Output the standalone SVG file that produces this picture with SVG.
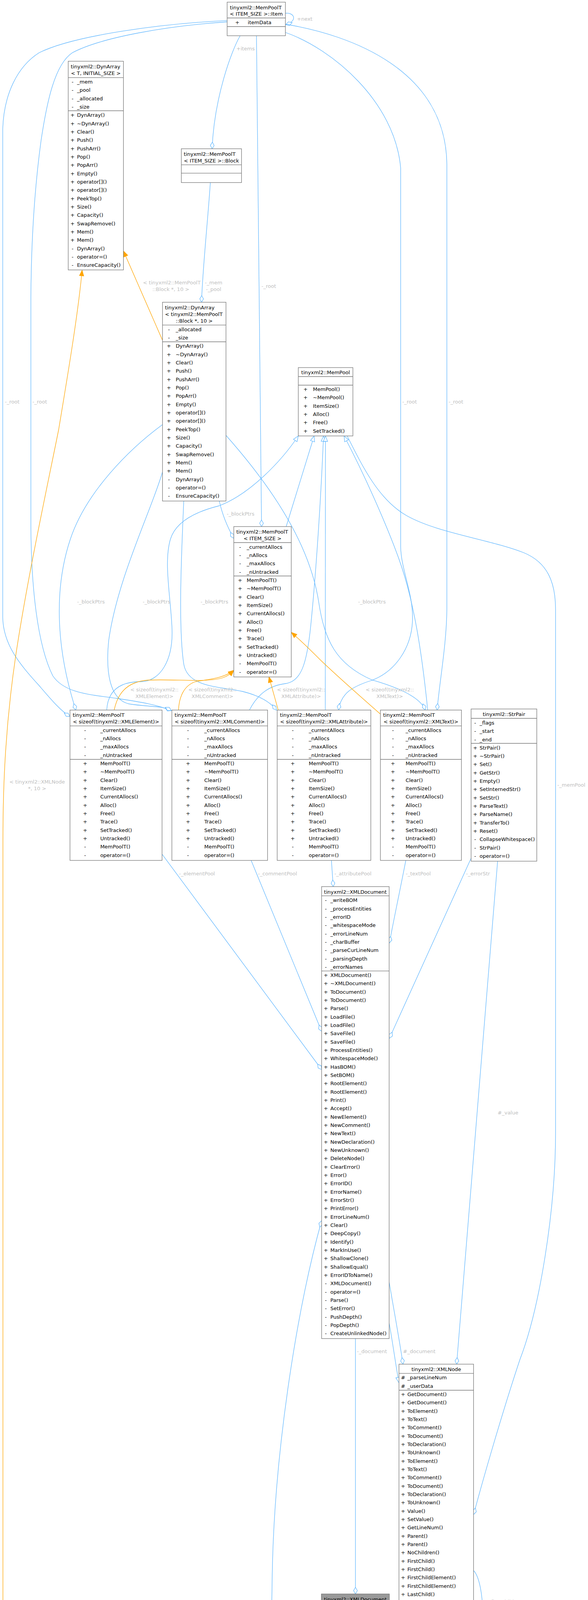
<svg xmlns="http://www.w3.org/2000/svg" width="1504" height="5374" viewBox="0 0 1504 5374">
<style>
text{font-family:"DejaVu Sans","Noto Sans",sans-serif;font-size:13px;fill:#000}
.c{text-anchor:middle}
.lb{fill:#bebebe}
.n rect{fill:#fff;stroke:#777;stroke-width:1.3}
.hl rect{fill:#999}
.n line{stroke:#777;stroke-width:1.3}
.e{fill:none;stroke:#63b8ff;stroke-width:1.3}
.o{fill:none;stroke:#ffa500;stroke-width:1.3;marker-end:url(#otri)}
.d{marker-end:url(#dia)}
.t{marker-end:url(#tri)}
</style>
<defs>
<marker id="dia" markerUnits="userSpaceOnUse" viewBox="-19 -7 20 14" refX="0" refY="0" markerWidth="20" markerHeight="14" orient="auto"><path d="M0,0 L-8.5,-4.8 L-17,0 L-8.5,4.8 Z" fill="#fff" stroke="#63b8ff" stroke-width="1.3"/></marker>
<marker id="tri" markerUnits="userSpaceOnUse" viewBox="-17 -8 18 16" refX="0" refY="0" markerWidth="18" markerHeight="16" orient="auto"><path d="M0,0 L-14,-5.5 L-14,5.5 Z" fill="#fff" stroke="#63b8ff" stroke-width="1.3"/></marker>
<marker id="otri" markerUnits="userSpaceOnUse" viewBox="-17 -8 18 16" refX="0" refY="0" markerWidth="18" markerHeight="16" orient="auto"><path d="M0,0 L-14,-5.5 L-14,5.5 Z" fill="#ffa500" stroke="#ffa500" stroke-width="1.3"/></marker>
</defs>
<rect x="0" y="0" width="1504" height="5374" fill="#fff"/>
<g id="connectors">
<path class="e d" d="M730,34 C752,31 763,53 731,63"/>
<path class="e d" d="M614,92 C592,130 548,250 542.5,380.8"/>
<path class="e d" d="M656,91.5 L669,1348"/>
<path class="e d" d="M581,52.7 C420,60 190,90 100,135 C45,170 10,240 7,330 L7,1580 C8,1650 50,1700 100,1755 C130,1790 155,1820 179,1834"/>
<path class="e d" d="M581,56 C430,66 260,95 185,135 C140,165 120,260 105,360 C90,470 80,600 79,760 L79,1350 C80,1500 95,1650 135,1730 C165,1775 230,1778 300,1788 C360,1797 405,1805 438,1819"/>
<path class="e d" d="M730,83 C850,125 1010,260 1024.8,430 L1024.8,1400 C1026,1460 1058,1520 1055,1590 C1052,1660 1010,1720 950,1742 C900,1758 872,1775 866,1817.7"/>
<path class="e d" d="M730,62 C900,90 1140,180 1143,420 L1143,1560 C1142,1650 1125,1740 1118,1817.7"/>
<path class="e d" d="M888,1116 C930,1200 970,1280 1040,1320 C1120,1365 1250,1380 1340,1415 C1400,1440 1421,1490 1421,1560 L1421,2900 C1421,3100 1380,3350 1330,3480 C1290,3600 1240,3770 1211.5,3877"/>
<path class="e d" d="M538,467.4 C532,560 518,690 515.5,773.7"/>
<path class="e d" d="M561,1282.7 C568,1315 582,1350 598,1378"/>
<path class="e d" d="M415.6,1087 C330,1150 220,1260 180,1380 C140,1500 140,1650 194,1817.7"/>
<path class="e d" d="M415.6,1208 C390,1300 300,1480 278,1640 C270,1720 280,1790 330,1802 C380,1810 415,1806 438,1819"/>
<path class="e d" d="M470,1282.7 C465,1400 455,1600 470,1700 C480,1760 560,1757 620,1770 C660,1780 690,1795 707,1818"/>
<path class="e d" d="M578,1114.5 C680,1230 790,1380 815,1540 C830,1640 860,1700 950,1740 C1020,1760 1075,1785 1088,1817.7"/>
<path class="e t" d="M273,1817.7 C276,1765 310,1745 360,1745 C410,1745 443,1690 440,1610 C437,1530 418,1440 436,1380 C450,1335 500,1310 560,1295 C640,1265 720,1180 763,1116"/>
<path class="e t" d="M732,1348 L803.5,1116"/>
<path class="e t" d="M638,1817.7 C660,1775 690,1755 730,1750 C770,1745 785,1700 795,1600 C810,1450 822,1250 827.5,1116"/>
<path class="e t" d="M832,1817.7 L832.5,1116"/>
<path class="e t" d="M1094,1817.7 C1080,1680 1060,1540 1020,1430 C995,1360 940,1230 880,1116"/>
<path class="e d" d="M1205,2197 L996,2658"/>
<path class="e d" d="M1038,2202.6 C1025,2270 1010,2340 996,2414"/>
<path class="e d" d="M847.7,2202.6 L852.3,2269.7"/>
<path class="e d" d="M414.5,2186.6 L822.6,2738"/>
<path class="e d" d="M642.3,2202.6 L822.6,2640"/>
<path class="e d" d="M1272.8,2204.6 L1168,3492.3"/>
<path class="e d" d="M995.4,3282 C1005,3340 1020,3420 1030.8,3492.3"/>
<path class="e t" d="M995.4,3387 C1005,3440 1013,3500 1020.5,3540"/>
<path class="e d" d="M909.2,3426.7 L909.2,4080.5"/>
<path class="e d" d="M709.4,4859.6 C700,4600 690,4300 697,4000 C705,3700 760,3350 822.6,3125"/>
<path class="e d" d="M1211.3,4020.5 C1240,4050 1245,4200 1211.3,4245"/>
<path class="e d" d="M1020.7,4747.8 C990,4850 900,4960 805.1,5040"/>
<path class="o" d="M415.6,871 L316,643"/>
<path class="o" d="M649.5,5059.6 C560,4990 410,4848 357,4803 C180,4660 7.5,4400 7.5,4140 L7.5,2150 C7.5,2000 15,1850 40,1680 C70,1480 120,1250 150,1100 C175,950 200,800 210,692"/>
<path class="o" d="M292,1817.7 C300,1780 320,1745 380,1741 C450,1738 530,1748 570,1735 C585,1730 592,1722 598,1716"/>
<path class="o" d="M456.6,1817.7 C458,1785 470,1755 500,1745 C540,1738 572,1736 598,1716"/>
<path class="o" d="M711.6,1817.7 L688,1733"/>
<path class="o" d="M973,1828 C930,1790 870,1738 820,1690 C790,1660 765,1636 745.3,1619"/>
<g id="labels">
<text class="lb" x="759.5" y="52.7">+next</text>
<text class="lb" x="604.5" y="129.3">+items</text>
<text class="lb" x="668.8" y="737.3">-_root</text>
<text class="lb" x="12.6" y="1033.3">-_root</text>
<text class="lb" x="83" y="1033.3">-_root</text>
<text class="lb" x="1029" y="1032.7">-_root</text>
<text class="lb" x="1147.5" y="1032.7">-_root</text>
<text class="lb c" x="439.5" y="728.4">&lt; tinyxml2::MemPoolT</text>
<text class="lb c" x="437" y="745.3">::Block *, 10 &gt;</text>
<text class="lb c" x="546.3" y="728.4">-_mem</text>
<text class="lb c" x="546.3" y="745.3">-_pool</text>
<text class="lb" x="580" y="1319.7">-_blockPtrs</text>
<text class="lb" x="197.3" y="1544.7">-_blockPtrs</text>
<text class="lb" x="365" y="1544.7">-_blockPtrs</text>
<text class="lb" x="513" y="1544.7">-_blockPtrs</text>
<text class="lb" x="916" y="1544.7">-_blockPtrs</text>
<text class="lb c" x="395" y="1770">&lt; sizeof(tinyxml2::</text>
<text class="lb c" x="395" y="1787">XMLElement)&gt;</text>
<text class="lb c" x="543.5" y="1770">&lt; sizeof(tinyxml2::</text>
<text class="lb c" x="543.5" y="1787">XMLComment)&gt;</text>
<text class="lb c" x="770.3" y="1770">&lt; sizeof(tinyxml2::</text>
<text class="lb c" x="770.3" y="1787">XMLAttribute)&gt;</text>
<text class="lb c" x="997" y="1770">&lt; sizeof(tinyxml2::</text>
<text class="lb c" x="997" y="1787">XMLText)&gt;</text>
<text class="lb c" x="95" y="2006.1">&lt; tinyxml2::XMLNode</text>
<text class="lb c" x="95" y="2022.7">*, 10 &gt;</text>
<text class="lb" x="1425.6" y="2014.4">-_memPool</text>
<text class="lb" x="458" y="2241.2">-_elementPool</text>
<text class="lb" x="660" y="2241.2">-_commentPool</text>
<text class="lb" x="855.4" y="2241.1">-_attributePool</text>
<text class="lb" x="1038" y="2241.1">-_textPool</text>
<text class="lb" x="1192" y="2241.1">-_errorStr</text>
<text class="lb" x="1272.8" y="2852.7">#_value</text>
<text class="lb" x="913" y="3463.7">-_document</text>
<text class="lb" x="1030.8" y="3463.7">#_document</text>
<text class="lb" x="744" y="4138.5">-_unlinked</text>
<text class="lb c" x="1276.5" y="4104.7">#_firstChild</text>
<text class="lb c" x="1276.5" y="4121.7">#_lastChild</text>
<text class="lb c" x="1276.5" y="4139.1">#_next</text>
<text class="lb c" x="1276.5" y="4155.7">#_parent</text>
<text class="lb c" x="1276.5" y="4172.7">#_prev</text>
<text class="lb c" x="1019" y="4813.7">-_mem</text>
<text class="lb c" x="1019" y="4830.7">-_pool</text>
</g>
</g>
<g id="Item" class="n">
<rect x="581" y="5.5" width="149" height="86"/>
<line x1="581" y1="46" x2="730" y2="46"/><line x1="581" y1="68" x2="730" y2="68"/>
<text x="588" y="23.5">tinyxml2::MemPoolT</text>
<text class="c" x="655.5" y="40.4">&lt; ITEM_SIZE &gt;::Item</text>
<text y="61.8"><tspan x="601.4">+</tspan><tspan x="633.8">itemData</tspan></text>
</g>
<g id="DynArrayT" class="n">
<rect x="174.5" y="156.7" width="141.2" height="534.3"/>
<line x1="174.5" y1="198.7" x2="315.7" y2="198.7"/><line x1="174.5" y1="283.5" x2="315.7" y2="283.5"/>
<text x="181" y="175.2">tinyxml2::DynArray</text>
<text class="c" x="245.1" y="192.2">&lt; T, INITIAL_SIZE &gt;</text>
<text y="214.1"><tspan x="183.2">-</tspan><tspan x="197">_mem</tspan></text>
<text y="235.4"><tspan x="183.2">-</tspan><tspan x="197">_pool</tspan></text>
<text y="256.8"><tspan x="183.2">-</tspan><tspan x="197">_allocated</tspan></text>
<text y="278.1"><tspan x="183.2">-</tspan><tspan x="197">_size</tspan></text>
<text y="299.3"><tspan x="180.1">+</tspan><tspan x="197">DynArray()</tspan></text>
<text y="320.6"><tspan x="180.1">+</tspan><tspan x="197">~DynArray()</tspan></text>
<text y="342.0"><tspan x="180.1">+</tspan><tspan x="197">Clear()</tspan></text>
<text y="363.3"><tspan x="180.1">+</tspan><tspan x="197">Push()</tspan></text>
<text y="384.6"><tspan x="180.1">+</tspan><tspan x="197">PushArr()</tspan></text>
<text y="406.0"><tspan x="180.1">+</tspan><tspan x="197">Pop()</tspan></text>
<text y="427.3"><tspan x="180.1">+</tspan><tspan x="197">PopArr()</tspan></text>
<text y="448.6"><tspan x="180.1">+</tspan><tspan x="197">Empty()</tspan></text>
<text y="469.9"><tspan x="180.1">+</tspan><tspan x="197">operator[]()</tspan></text>
<text y="491.3"><tspan x="180.1">+</tspan><tspan x="197">operator[]()</tspan></text>
<text y="512.6"><tspan x="180.1">+</tspan><tspan x="197">PeekTop()</tspan></text>
<text y="533.9"><tspan x="180.1">+</tspan><tspan x="197">Size()</tspan></text>
<text y="555.3"><tspan x="180.1">+</tspan><tspan x="197">Capacity()</tspan></text>
<text y="576.6"><tspan x="180.1">+</tspan><tspan x="197">SwapRemove()</tspan></text>
<text y="597.9"><tspan x="180.1">+</tspan><tspan x="197">Mem()</tspan></text>
<text y="619.3"><tspan x="180.1">+</tspan><tspan x="197">Mem()</tspan></text>
<text y="640.6"><tspan x="183.2">-</tspan><tspan x="197">DynArray()</tspan></text>
<text y="661.9"><tspan x="183.2">-</tspan><tspan x="197">operator=()</tspan></text>
<text y="683.2"><tspan x="183.2">-</tspan><tspan x="197">EnsureCapacity()</tspan></text>
</g>
<g id="Block" class="n">
<rect x="463.8" y="380.8" width="153.9" height="86.6"/>
<line x1="463.8" y1="421.9" x2="617.7" y2="421.9"/><line x1="463.8" y1="443.3" x2="617.7" y2="443.3"/>
<text x="470" y="398.9">tinyxml2::MemPoolT</text>
<text class="c" x="540.75" y="416.3">&lt; ITEM_SIZE &gt;::Block</text>
</g>
<g id="DynArrayBlock" class="n">
<rect x="415.6" y="773.7" width="162.4" height="508.9"/>
<line x1="415.6" y1="832.1" x2="578" y2="832.1"/><line x1="415.6" y1="875" x2="578" y2="875"/>
<text x="422" y="791.7">tinyxml2::DynArray</text>
<text x="422" y="808.7">&lt; tinyxml2::MemPoolT</text>
<text class="c" x="496.8" y="825.7">::Block *, 10 &gt;</text>
<text y="848"><tspan x="429.7">-</tspan><tspan x="449.5">_allocated</tspan></text>
<text y="869.3"><tspan x="429.7">-</tspan><tspan x="449.5">_size</tspan></text>
<text y="890.4"><tspan x="426.6">+</tspan><tspan x="449.5">DynArray()</tspan></text>
<text y="911.7"><tspan x="426.6">+</tspan><tspan x="449.5">~DynArray()</tspan></text>
<text y="933.1"><tspan x="426.6">+</tspan><tspan x="449.5">Clear()</tspan></text>
<text y="954.4"><tspan x="426.6">+</tspan><tspan x="449.5">Push()</tspan></text>
<text y="975.7"><tspan x="426.6">+</tspan><tspan x="449.5">PushArr()</tspan></text>
<text y="997.1"><tspan x="426.6">+</tspan><tspan x="449.5">Pop()</tspan></text>
<text y="1018.4"><tspan x="426.6">+</tspan><tspan x="449.5">PopArr()</tspan></text>
<text y="1039.7"><tspan x="426.6">+</tspan><tspan x="449.5">Empty()</tspan></text>
<text y="1061.0"><tspan x="426.6">+</tspan><tspan x="449.5">operator[]()</tspan></text>
<text y="1082.4"><tspan x="426.6">+</tspan><tspan x="449.5">operator[]()</tspan></text>
<text y="1103.7"><tspan x="426.6">+</tspan><tspan x="449.5">PeekTop()</tspan></text>
<text y="1125.0"><tspan x="426.6">+</tspan><tspan x="449.5">Size()</tspan></text>
<text y="1146.4"><tspan x="426.6">+</tspan><tspan x="449.5">Capacity()</tspan></text>
<text y="1167.7"><tspan x="426.6">+</tspan><tspan x="449.5">SwapRemove()</tspan></text>
<text y="1189.0"><tspan x="426.6">+</tspan><tspan x="449.5">Mem()</tspan></text>
<text y="1210.4"><tspan x="426.6">+</tspan><tspan x="449.5">Mem()</tspan></text>
<text y="1231.7"><tspan x="429.7">-</tspan><tspan x="449.5">DynArray()</tspan></text>
<text y="1253.0"><tspan x="429.7">-</tspan><tspan x="449.5">operator=()</tspan></text>
<text y="1274.3"><tspan x="429.7">-</tspan><tspan x="449.5">EnsureCapacity()</tspan></text>
</g>
<g id="MemPool" class="n">
<rect x="763" y="941" width="139.6" height="175"/>
<line x1="763" y1="964" x2="902.6" y2="964"/><line x1="763" y1="986" x2="902.6" y2="986"/>
<text class="c" x="832.8" y="958.3">tinyxml2::MemPool</text>
<text y="1001.1"><tspan x="776.1">+</tspan><tspan x="800.6">MemPool()</tspan></text>
<text y="1022.4"><tspan x="776.1">+</tspan><tspan x="800.6">~MemPool()</tspan></text>
<text y="1043.8"><tspan x="776.1">+</tspan><tspan x="800.6">ItemSize()</tspan></text>
<text y="1065.1"><tspan x="776.1">+</tspan><tspan x="800.6">Alloc()</tspan></text>
<text y="1086.4"><tspan x="776.1">+</tspan><tspan x="800.6">Free()</tspan></text>
<text y="1107.8"><tspan x="776.1">+</tspan><tspan x="800.6">SetTracked()</tspan></text>
</g>
<g id="MemPoolT" class="n">
<rect x="598" y="1348" width="147" height="385"/>
<line x1="598" y1="1389" x2="745" y2="1389"/><line x1="598" y1="1474.5" x2="745" y2="1474.5"/>
<text x="604.5" y="1366.3">tinyxml2::MemPoolT</text>
<text class="c" x="671.5" y="1383.2">&lt; ITEM_SIZE &gt;</text>
<text y="1404.6"><tspan x="611.7">-</tspan><tspan x="631">_currentAllocs</tspan></text>
<text y="1425.9"><tspan x="611.7">-</tspan><tspan x="631">_nAllocs</tspan></text>
<text y="1447.3"><tspan x="611.7">-</tspan><tspan x="631">_maxAllocs</tspan></text>
<text y="1468.6"><tspan x="611.7">-</tspan><tspan x="631">_nUntracked</tspan></text>
<text y="1489.9"><tspan x="608.6">+</tspan><tspan x="631">MemPoolT()</tspan></text>
<text y="1511.2"><tspan x="608.6">+</tspan><tspan x="631">~MemPoolT()</tspan></text>
<text y="1532.6"><tspan x="608.6">+</tspan><tspan x="631">Clear()</tspan></text>
<text y="1553.9"><tspan x="608.6">+</tspan><tspan x="631">ItemSize()</tspan></text>
<text y="1575.2"><tspan x="608.6">+</tspan><tspan x="631">CurrentAllocs()</tspan></text>
<text y="1596.6"><tspan x="608.6">+</tspan><tspan x="631">Alloc()</tspan></text>
<text y="1617.9"><tspan x="608.6">+</tspan><tspan x="631">Free()</tspan></text>
<text y="1639.2"><tspan x="608.6">+</tspan><tspan x="631">Trace()</tspan></text>
<text y="1660.5"><tspan x="608.6">+</tspan><tspan x="631">SetTracked()</tspan></text>
<text y="1681.9"><tspan x="608.6">+</tspan><tspan x="631">Untracked()</tspan></text>
<text y="1703.2"><tspan x="611.7">-</tspan><tspan x="631">MemPoolT()</tspan></text>
<text y="1724.5"><tspan x="611.7">-</tspan><tspan x="631">operator=()</tspan></text>
</g>
<g id="MemPoolElement" class="n">
<rect x="179" y="1817.7" width="235.5" height="384.9"/>
<line x1="179" y1="1858.4" x2="414.5" y2="1858.4"/><line x1="179" y1="1944" x2="414.5" y2="1944"/>
<text x="186" y="1835">tinyxml2::MemPoolT</text>
<text class="c" x="296.75" y="1851.9">&lt; sizeof(tinyxml2::XMLElement)&gt;</text>
<text y="1873.8"><tspan x="215.3">-</tspan><tspan x="256.4">_currentAllocs</tspan></text>
<text y="1895.1"><tspan x="215.3">-</tspan><tspan x="256.4">_nAllocs</tspan></text>
<text y="1916.4"><tspan x="215.3">-</tspan><tspan x="256.4">_maxAllocs</tspan></text>
<text y="1937.7"><tspan x="215.3">-</tspan><tspan x="256.4">_nUntracked</tspan></text>
<text y="1959.1"><tspan x="212.2">+</tspan><tspan x="256.4">MemPoolT()</tspan></text>
<text y="1980.4"><tspan x="212.2">+</tspan><tspan x="256.4">~MemPoolT()</tspan></text>
<text y="2001.8"><tspan x="212.2">+</tspan><tspan x="256.4">Clear()</tspan></text>
<text y="2023.1"><tspan x="212.2">+</tspan><tspan x="256.4">ItemSize()</tspan></text>
<text y="2044.4"><tspan x="212.2">+</tspan><tspan x="256.4">CurrentAllocs()</tspan></text>
<text y="2065.8"><tspan x="212.2">+</tspan><tspan x="256.4">Alloc()</tspan></text>
<text y="2087.1"><tspan x="212.2">+</tspan><tspan x="256.4">Free()</tspan></text>
<text y="2108.4"><tspan x="212.2">+</tspan><tspan x="256.4">Trace()</tspan></text>
<text y="2129.7"><tspan x="212.2">+</tspan><tspan x="256.4">SetTracked()</tspan></text>
<text y="2151.1"><tspan x="212.2">+</tspan><tspan x="256.4">Untracked()</tspan></text>
<text y="2172.4"><tspan x="215.3">-</tspan><tspan x="256.4">MemPoolT()</tspan></text>
<text y="2193.7"><tspan x="215.3">-</tspan><tspan x="256.4">operator=()</tspan></text>
</g>
<g id="MemPoolComment" class="n">
<rect x="439.6" y="1817.7" width="244.8" height="384.9"/>
<line x1="439.6" y1="1858.4" x2="684.4" y2="1858.4"/><line x1="439.6" y1="1944" x2="684.4" y2="1944"/>
<text x="446.6" y="1835">tinyxml2::MemPoolT</text>
<text class="c" x="562" y="1851.9">&lt; sizeof(tinyxml2::XMLComment)&gt;</text>
<text y="1873.8"><tspan x="478.5">-</tspan><tspan x="522.5">_currentAllocs</tspan></text>
<text y="1895.1"><tspan x="478.5">-</tspan><tspan x="522.5">_nAllocs</tspan></text>
<text y="1916.4"><tspan x="478.5">-</tspan><tspan x="522.5">_maxAllocs</tspan></text>
<text y="1937.7"><tspan x="478.5">-</tspan><tspan x="522.5">_nUntracked</tspan></text>
<text y="1959.1"><tspan x="475.4">+</tspan><tspan x="522.5">MemPoolT()</tspan></text>
<text y="1980.4"><tspan x="475.4">+</tspan><tspan x="522.5">~MemPoolT()</tspan></text>
<text y="2001.8"><tspan x="475.4">+</tspan><tspan x="522.5">Clear()</tspan></text>
<text y="2023.1"><tspan x="475.4">+</tspan><tspan x="522.5">ItemSize()</tspan></text>
<text y="2044.4"><tspan x="475.4">+</tspan><tspan x="522.5">CurrentAllocs()</tspan></text>
<text y="2065.8"><tspan x="475.4">+</tspan><tspan x="522.5">Alloc()</tspan></text>
<text y="2087.1"><tspan x="475.4">+</tspan><tspan x="522.5">Free()</tspan></text>
<text y="2108.4"><tspan x="475.4">+</tspan><tspan x="522.5">Trace()</tspan></text>
<text y="2129.7"><tspan x="475.4">+</tspan><tspan x="522.5">SetTracked()</tspan></text>
<text y="2151.1"><tspan x="475.4">+</tspan><tspan x="522.5">Untracked()</tspan></text>
<text y="2172.4"><tspan x="478.5">-</tspan><tspan x="522.5">MemPoolT()</tspan></text>
<text y="2193.7"><tspan x="478.5">-</tspan><tspan x="522.5">operator=()</tspan></text>
</g>
<g id="MemPoolAttribute" class="n">
<rect x="709" y="1817.7" width="239.5" height="384.9"/>
<line x1="709" y1="1858.4" x2="948.5" y2="1858.4"/><line x1="709" y1="1944" x2="948.5" y2="1944"/>
<text x="716" y="1835">tinyxml2::MemPoolT</text>
<text class="c" x="828.75" y="1851.9">&lt; sizeof(tinyxml2::XMLAttribute)&gt;</text>
<text y="1873.8"><tspan x="746.4">-</tspan><tspan x="789.7">_currentAllocs</tspan></text>
<text y="1895.1"><tspan x="746.4">-</tspan><tspan x="789.7">_nAllocs</tspan></text>
<text y="1916.4"><tspan x="746.4">-</tspan><tspan x="789.7">_maxAllocs</tspan></text>
<text y="1937.7"><tspan x="746.4">-</tspan><tspan x="789.7">_nUntracked</tspan></text>
<text y="1959.1"><tspan x="743.3">+</tspan><tspan x="789.7">MemPoolT()</tspan></text>
<text y="1980.4"><tspan x="743.3">+</tspan><tspan x="789.7">~MemPoolT()</tspan></text>
<text y="2001.8"><tspan x="743.3">+</tspan><tspan x="789.7">Clear()</tspan></text>
<text y="2023.1"><tspan x="743.3">+</tspan><tspan x="789.7">ItemSize()</tspan></text>
<text y="2044.4"><tspan x="743.3">+</tspan><tspan x="789.7">CurrentAllocs()</tspan></text>
<text y="2065.8"><tspan x="743.3">+</tspan><tspan x="789.7">Alloc()</tspan></text>
<text y="2087.1"><tspan x="743.3">+</tspan><tspan x="789.7">Free()</tspan></text>
<text y="2108.4"><tspan x="743.3">+</tspan><tspan x="789.7">Trace()</tspan></text>
<text y="2129.7"><tspan x="743.3">+</tspan><tspan x="789.7">SetTracked()</tspan></text>
<text y="2151.1"><tspan x="743.3">+</tspan><tspan x="789.7">Untracked()</tspan></text>
<text y="2172.4"><tspan x="746.4">-</tspan><tspan x="789.7">MemPoolT()</tspan></text>
<text y="2193.7"><tspan x="746.4">-</tspan><tspan x="789.7">operator=()</tspan></text>
</g>
<g id="MemPoolText" class="n">
<rect x="973" y="1817.7" width="207.3" height="384.9"/>
<line x1="973" y1="1858.4" x2="1180.3" y2="1858.4"/><line x1="973" y1="1944" x2="1180.3" y2="1944"/>
<text x="980" y="1835">tinyxml2::MemPoolT</text>
<text class="c" x="1076.7" y="1851.9">&lt; sizeof(tinyxml2::XMLText)&gt;</text>
<text y="1873.8"><tspan x="1002.7">-</tspan><tspan x="1037.4">_currentAllocs</tspan></text>
<text y="1895.1"><tspan x="1002.7">-</tspan><tspan x="1037.4">_nAllocs</tspan></text>
<text y="1916.4"><tspan x="1002.7">-</tspan><tspan x="1037.4">_maxAllocs</tspan></text>
<text y="1937.7"><tspan x="1002.7">-</tspan><tspan x="1037.4">_nUntracked</tspan></text>
<text y="1959.1"><tspan x="999.6">+</tspan><tspan x="1037.4">MemPoolT()</tspan></text>
<text y="1980.4"><tspan x="999.6">+</tspan><tspan x="1037.4">~MemPoolT()</tspan></text>
<text y="2001.8"><tspan x="999.6">+</tspan><tspan x="1037.4">Clear()</tspan></text>
<text y="2023.1"><tspan x="999.6">+</tspan><tspan x="1037.4">ItemSize()</tspan></text>
<text y="2044.4"><tspan x="999.6">+</tspan><tspan x="1037.4">CurrentAllocs()</tspan></text>
<text y="2065.8"><tspan x="999.6">+</tspan><tspan x="1037.4">Alloc()</tspan></text>
<text y="2087.1"><tspan x="999.6">+</tspan><tspan x="1037.4">Free()</tspan></text>
<text y="2108.4"><tspan x="999.6">+</tspan><tspan x="1037.4">Trace()</tspan></text>
<text y="2129.7"><tspan x="999.6">+</tspan><tspan x="1037.4">SetTracked()</tspan></text>
<text y="2151.1"><tspan x="999.6">+</tspan><tspan x="1037.4">Untracked()</tspan></text>
<text y="2172.4"><tspan x="1002.7">-</tspan><tspan x="1037.4">MemPoolT()</tspan></text>
<text y="2193.7"><tspan x="1002.7">-</tspan><tspan x="1037.4">operator=()</tspan></text>
</g>
<g id="StrPair" class="n">
<rect x="1205" y="1815" width="168" height="389.6"/>
<line x1="1205" y1="1839" x2="1373" y2="1839"/><line x1="1205" y1="1903" x2="1373" y2="1903"/>
<text class="c" x="1289" y="1832.9">tinyxml2::StrPair</text>
<text y="1855"><tspan x="1213.1">-</tspan><tspan x="1226.7">_flags</tspan></text>
<text y="1876.3"><tspan x="1213.1">-</tspan><tspan x="1226.7">_start</tspan></text>
<text y="1897.6"><tspan x="1213.1">-</tspan><tspan x="1226.7">_end</tspan></text>
<text y="1918.5"><tspan x="1210">+</tspan><tspan x="1226.7">StrPair()</tspan></text>
<text y="1939.9"><tspan x="1210">+</tspan><tspan x="1226.7">~StrPair()</tspan></text>
<text y="1961.2"><tspan x="1210">+</tspan><tspan x="1226.7">Set()</tspan></text>
<text y="1982.6"><tspan x="1210">+</tspan><tspan x="1226.7">GetStr()</tspan></text>
<text y="2003.9"><tspan x="1210">+</tspan><tspan x="1226.7">Empty()</tspan></text>
<text y="2025.3"><tspan x="1210">+</tspan><tspan x="1226.7">SetInternedStr()</tspan></text>
<text y="2046.6"><tspan x="1210">+</tspan><tspan x="1226.7">SetStr()</tspan></text>
<text y="2067.9"><tspan x="1210">+</tspan><tspan x="1226.7">ParseText()</tspan></text>
<text y="2089.3"><tspan x="1210">+</tspan><tspan x="1226.7">ParseName()</tspan></text>
<text y="2110.6"><tspan x="1210">+</tspan><tspan x="1226.7">TransferTo()</tspan></text>
<text y="2132.0"><tspan x="1210">+</tspan><tspan x="1226.7">Reset()</tspan></text>
<text y="2153.4"><tspan x="1213.1">-</tspan><tspan x="1226.7">CollapseWhitespace()</tspan></text>
<text y="2174.7"><tspan x="1213.1">-</tspan><tspan x="1226.7">StrPair()</tspan></text>
<text y="2196.1"><tspan x="1213.1">-</tspan><tspan x="1226.7">operator=()</tspan></text>
</g>
<g id="XMLDocument" class="n">
<rect x="822.6" y="2269.7" width="172.8" height="1157"/>
<line x1="822.6" y1="2293.3" x2="995.4" y2="2293.3"/><line x1="822.6" y1="2485.6" x2="995.4" y2="2485.6"/>
<text class="c" x="909" y="2287.7">tinyxml2::XMLDocument</text>
<text y="2309.3"><tspan x="831">-</tspan><tspan x="845">_writeBOM</tspan></text>
<text y="2330.7"><tspan x="831">-</tspan><tspan x="845">_processEntities</tspan></text>
<text y="2352.0"><tspan x="831">-</tspan><tspan x="845">_errorID</tspan></text>
<text y="2373.4"><tspan x="831">-</tspan><tspan x="845">_whitespaceMode</tspan></text>
<text y="2394.7"><tspan x="831">-</tspan><tspan x="845">_errorLineNum</tspan></text>
<text y="2416.1"><tspan x="831">-</tspan><tspan x="845">_charBuffer</tspan></text>
<text y="2437.4"><tspan x="831">-</tspan><tspan x="845">_parseCurLineNum</tspan></text>
<text y="2458.8"><tspan x="831">-</tspan><tspan x="845">_parsingDepth</tspan></text>
<text y="2480.1"><tspan x="831">-</tspan><tspan x="845">_errorNames</tspan></text>
<text y="2500.8"><tspan x="827.9">+</tspan><tspan x="845">XMLDocument()</tspan></text>
<text y="2522.1"><tspan x="827.9">+</tspan><tspan x="845">~XMLDocument()</tspan></text>
<text y="2543.5"><tspan x="827.9">+</tspan><tspan x="845">ToDocument()</tspan></text>
<text y="2564.8"><tspan x="827.9">+</tspan><tspan x="845">ToDocument()</tspan></text>
<text y="2586.1"><tspan x="827.9">+</tspan><tspan x="845">Parse()</tspan></text>
<text y="2607.5"><tspan x="827.9">+</tspan><tspan x="845">LoadFile()</tspan></text>
<text y="2628.8"><tspan x="827.9">+</tspan><tspan x="845">LoadFile()</tspan></text>
<text y="2650.1"><tspan x="827.9">+</tspan><tspan x="845">SaveFile()</tspan></text>
<text y="2671.5"><tspan x="827.9">+</tspan><tspan x="845">SaveFile()</tspan></text>
<text y="2692.8"><tspan x="827.9">+</tspan><tspan x="845">ProcessEntities()</tspan></text>
<text y="2714.2"><tspan x="827.9">+</tspan><tspan x="845">WhitespaceMode()</tspan></text>
<text y="2735.5"><tspan x="827.9">+</tspan><tspan x="845">HasBOM()</tspan></text>
<text y="2756.8"><tspan x="827.9">+</tspan><tspan x="845">SetBOM()</tspan></text>
<text y="2778.2"><tspan x="827.9">+</tspan><tspan x="845">RootElement()</tspan></text>
<text y="2799.5"><tspan x="827.9">+</tspan><tspan x="845">RootElement()</tspan></text>
<text y="2820.8"><tspan x="827.9">+</tspan><tspan x="845">Print()</tspan></text>
<text y="2842.2"><tspan x="827.9">+</tspan><tspan x="845">Accept()</tspan></text>
<text y="2863.5"><tspan x="827.9">+</tspan><tspan x="845">NewElement()</tspan></text>
<text y="2884.8"><tspan x="827.9">+</tspan><tspan x="845">NewComment()</tspan></text>
<text y="2906.2"><tspan x="827.9">+</tspan><tspan x="845">NewText()</tspan></text>
<text y="2927.5"><tspan x="827.9">+</tspan><tspan x="845">NewDeclaration()</tspan></text>
<text y="2948.8"><tspan x="827.9">+</tspan><tspan x="845">NewUnknown()</tspan></text>
<text y="2970.2"><tspan x="827.9">+</tspan><tspan x="845">DeleteNode()</tspan></text>
<text y="2991.5"><tspan x="827.9">+</tspan><tspan x="845">ClearError()</tspan></text>
<text y="3012.8"><tspan x="827.9">+</tspan><tspan x="845">Error()</tspan></text>
<text y="3034.2"><tspan x="827.9">+</tspan><tspan x="845">ErrorID()</tspan></text>
<text y="3055.5"><tspan x="827.9">+</tspan><tspan x="845">ErrorName()</tspan></text>
<text y="3076.8"><tspan x="827.9">+</tspan><tspan x="845">ErrorStr()</tspan></text>
<text y="3098.2"><tspan x="827.9">+</tspan><tspan x="845">PrintError()</tspan></text>
<text y="3119.5"><tspan x="827.9">+</tspan><tspan x="845">ErrorLineNum()</tspan></text>
<text y="3140.9"><tspan x="827.9">+</tspan><tspan x="845">Clear()</tspan></text>
<text y="3162.2"><tspan x="827.9">+</tspan><tspan x="845">DeepCopy()</tspan></text>
<text y="3183.5"><tspan x="827.9">+</tspan><tspan x="845">Identify()</tspan></text>
<text y="3204.9"><tspan x="827.9">+</tspan><tspan x="845">MarkInUse()</tspan></text>
<text y="3226.2"><tspan x="827.9">+</tspan><tspan x="845">ShallowClone()</tspan></text>
<text y="3247.5"><tspan x="827.9">+</tspan><tspan x="845">ShallowEqual()</tspan></text>
<text y="3268.9"><tspan x="827.9">+</tspan><tspan x="845">ErrorIDToName()</tspan></text>
<text y="3290.2"><tspan x="831">-</tspan><tspan x="845">XMLDocument()</tspan></text>
<text y="3311.5"><tspan x="831">-</tspan><tspan x="845">operator=()</tspan></text>
<text y="3332.9"><tspan x="831">-</tspan><tspan x="845">Parse()</tspan></text>
<text y="3354.2"><tspan x="831">-</tspan><tspan x="845">SetError()</tspan></text>
<text y="3375.5"><tspan x="831">-</tspan><tspan x="845">PushDepth()</tspan></text>
<text y="3396.9"><tspan x="831">-</tspan><tspan x="845">PopDepth()</tspan></text>
<text y="3418.2"><tspan x="831">-</tspan><tspan x="845">CreateUnlinkedNode()</tspan></text>
</g>
<g id="XMLNode" class="n">
<rect x="1020.5" y="3492.3" width="190.8" height="1285.2"/>
<line x1="1020.5" y1="3515.9" x2="1211.3" y2="3515.9"/><line x1="1020.5" y1="3559" x2="1211.3" y2="3559"/>
<text class="c" x="1115.9" y="3509.8">tinyxml2::XMLNode</text>
<text y="3531.4"><tspan x="1025.4">#</tspan><tspan x="1042">_parseLineNum</tspan></text>
<text y="3552.9"><tspan x="1025.4">#</tspan><tspan x="1042">_userData</tspan></text>
<text y="3573.8"><tspan x="1025.4">+</tspan><tspan x="1042">GetDocument()</tspan></text>
<text y="3595.1"><tspan x="1025.4">+</tspan><tspan x="1042">GetDocument()</tspan></text>
<text y="3616.5"><tspan x="1025.4">+</tspan><tspan x="1042">ToElement()</tspan></text>
<text y="3637.8"><tspan x="1025.4">+</tspan><tspan x="1042">ToText()</tspan></text>
<text y="3659.2"><tspan x="1025.4">+</tspan><tspan x="1042">ToComment()</tspan></text>
<text y="3680.5"><tspan x="1025.4">+</tspan><tspan x="1042">ToDocument()</tspan></text>
<text y="3701.8"><tspan x="1025.4">+</tspan><tspan x="1042">ToDeclaration()</tspan></text>
<text y="3723.2"><tspan x="1025.4">+</tspan><tspan x="1042">ToUnknown()</tspan></text>
<text y="3744.5"><tspan x="1025.4">+</tspan><tspan x="1042">ToElement()</tspan></text>
<text y="3765.9"><tspan x="1025.4">+</tspan><tspan x="1042">ToText()</tspan></text>
<text y="3787.2"><tspan x="1025.4">+</tspan><tspan x="1042">ToComment()</tspan></text>
<text y="3808.5"><tspan x="1025.4">+</tspan><tspan x="1042">ToDocument()</tspan></text>
<text y="3829.9"><tspan x="1025.4">+</tspan><tspan x="1042">ToDeclaration()</tspan></text>
<text y="3851.2"><tspan x="1025.4">+</tspan><tspan x="1042">ToUnknown()</tspan></text>
<text y="3872.6"><tspan x="1025.4">+</tspan><tspan x="1042">Value()</tspan></text>
<text y="3893.9"><tspan x="1025.4">+</tspan><tspan x="1042">SetValue()</tspan></text>
<text y="3915.2"><tspan x="1025.4">+</tspan><tspan x="1042">GetLineNum()</tspan></text>
<text y="3936.6"><tspan x="1025.4">+</tspan><tspan x="1042">Parent()</tspan></text>
<text y="3957.9"><tspan x="1025.4">+</tspan><tspan x="1042">Parent()</tspan></text>
<text y="3979.3"><tspan x="1025.4">+</tspan><tspan x="1042">NoChildren()</tspan></text>
<text y="4000.6"><tspan x="1025.4">+</tspan><tspan x="1042">FirstChild()</tspan></text>
<text y="4021.9"><tspan x="1025.4">+</tspan><tspan x="1042">FirstChild()</tspan></text>
<text y="4043.3"><tspan x="1025.4">+</tspan><tspan x="1042">FirstChildElement()</tspan></text>
<text y="4064.6"><tspan x="1025.4">+</tspan><tspan x="1042">FirstChildElement()</tspan></text>
<text y="4086.0"><tspan x="1025.4">+</tspan><tspan x="1042">LastChild()</tspan></text>
<text y="4107.3"><tspan x="1025.4">+</tspan><tspan x="1042">LastChild()</tspan></text>
<text y="4128.6"><tspan x="1025.4">+</tspan><tspan x="1042">LastChildElement()</tspan></text>
<text y="4150.0"><tspan x="1025.4">+</tspan><tspan x="1042">LastChildElement()</tspan></text>
<text y="4171.3"><tspan x="1025.4">+</tspan><tspan x="1042">PreviousSibling()</tspan></text>
<text y="4192.7"><tspan x="1025.4">+</tspan><tspan x="1042">PreviousSibling()</tspan></text>
<text y="4214.0"><tspan x="1025.4">+</tspan><tspan x="1042">PreviousSiblingElement()</tspan></text>
<text y="4235.3"><tspan x="1025.4">+</tspan><tspan x="1042">PreviousSiblingElement()</tspan></text>
<text y="4256.7"><tspan x="1025.4">+</tspan><tspan x="1042">NextSibling()</tspan></text>
<text y="4278.0"><tspan x="1025.4">+</tspan><tspan x="1042">NextSibling()</tspan></text>
<text y="4299.4"><tspan x="1025.4">+</tspan><tspan x="1042">NextSiblingElement()</tspan></text>
<text y="4320.7"><tspan x="1025.4">+</tspan><tspan x="1042">NextSiblingElement()</tspan></text>
<text y="4342.0"><tspan x="1025.4">+</tspan><tspan x="1042">InsertEndChild()</tspan></text>
<text y="4363.4"><tspan x="1025.4">+</tspan><tspan x="1042">LinkEndChild()</tspan></text>
<text y="4384.7"><tspan x="1025.4">+</tspan><tspan x="1042">InsertFirstChild()</tspan></text>
<text y="4406.1"><tspan x="1025.4">+</tspan><tspan x="1042">InsertAfterChild()</tspan></text>
<text y="4427.4"><tspan x="1025.4">+</tspan><tspan x="1042">DeleteChildren()</tspan></text>
<text y="4448.7"><tspan x="1025.4">+</tspan><tspan x="1042">DeleteChild()</tspan></text>
<text y="4470.1"><tspan x="1025.4">+</tspan><tspan x="1042">ShallowClone()</tspan></text>
<text y="4491.4"><tspan x="1025.4">+</tspan><tspan x="1042">DeepClone()</tspan></text>
<text y="4512.8"><tspan x="1025.4">+</tspan><tspan x="1042">ShallowEqual()</tspan></text>
<text y="4534.1"><tspan x="1025.4">+</tspan><tspan x="1042">Accept()</tspan></text>
<text y="4555.4"><tspan x="1025.4">+</tspan><tspan x="1042">SetUserData()</tspan></text>
<text y="4576.8"><tspan x="1025.4">+</tspan><tspan x="1042">GetUserData()</tspan></text>
<text y="4598.1"><tspan x="1025.4">#</tspan><tspan x="1042">XMLNode()</tspan></text>
<text y="4619.5"><tspan x="1025.4">#</tspan><tspan x="1042">~XMLNode()</tspan></text>
<text y="4640.8"><tspan x="1025.4">#</tspan><tspan x="1042">ParseDeep()</tspan></text>
<text y="4662.1"><tspan x="1028.5">-</tspan><tspan x="1042">Unlink()</tspan></text>
<text y="4683.5"><tspan x="1028.5">-</tspan><tspan x="1042">InsertChildPreamble()</tspan></text>
<text y="4704.8"><tspan x="1028.5">-</tspan><tspan x="1042">ToElementWithName()</tspan></text>
<text y="4726.2"><tspan x="1028.5">-</tspan><tspan x="1042">XMLNode()</tspan></text>
<text y="4747.5"><tspan x="1028.5">-</tspan><tspan x="1042">operator=()</tspan></text>
<text y="4768.8"><tspan x="1028.5">-</tspan><tspan x="1042">DeleteNode()</tspan></text>
</g>
<g id="DepthTracker" class="n hl">
<rect x="822" y="4080.5" width="173.9" height="108.2"/>
<line x1="822" y1="4122" x2="995.9" y2="4122"/><line x1="822" y1="4143.6" x2="995.9" y2="4143.6"/>
<text x="828.7" y="4098.5">tinyxml2::XMLDocument</text>
<text class="c" x="909" y="4115.5">::DepthTracker</text>
<text y="4158.7"><tspan x="837.6">+</tspan><tspan x="864">DepthTracker()</tspan></text>
<text y="4180.1"><tspan x="837.6">+</tspan><tspan x="864">~DepthTracker()</tspan></text>
</g>
<g id="DynArrayNode" class="n">
<rect x="649.5" y="4859.6" width="155.6" height="508.1"/>
<line x1="649.5" y1="4917.4" x2="805.1" y2="4917.4"/><line x1="649.5" y1="4960.9" x2="805.1" y2="4960.9"/>
<text x="656" y="4876.9">tinyxml2::DynArray</text>
<text x="656" y="4894.1">&lt; tinyxml2::XMLNode</text>
<text class="c" x="727.3" y="4910.9">*, 10 &gt;</text>
<text y="4933.3"><tspan x="662.5">-</tspan><tspan x="680.1">_allocated</tspan></text>
<text y="4955"><tspan x="662.5">-</tspan><tspan x="680.1">_size</tspan></text>
<text y="4975.5"><tspan x="659.4">+</tspan><tspan x="680.1">DynArray()</tspan></text>
<text y="4996.9"><tspan x="659.4">+</tspan><tspan x="680.1">~DynArray()</tspan></text>
<text y="5018.2"><tspan x="659.4">+</tspan><tspan x="680.1">Clear()</tspan></text>
<text y="5039.6"><tspan x="659.4">+</tspan><tspan x="680.1">Push()</tspan></text>
<text y="5060.9"><tspan x="659.4">+</tspan><tspan x="680.1">PushArr()</tspan></text>
<text y="5082.3"><tspan x="659.4">+</tspan><tspan x="680.1">Pop()</tspan></text>
<text y="5103.7"><tspan x="659.4">+</tspan><tspan x="680.1">PopArr()</tspan></text>
<text y="5125.0"><tspan x="659.4">+</tspan><tspan x="680.1">Empty()</tspan></text>
<text y="5146.4"><tspan x="659.4">+</tspan><tspan x="680.1">operator[]()</tspan></text>
<text y="5167.7"><tspan x="659.4">+</tspan><tspan x="680.1">operator[]()</tspan></text>
<text y="5189.1"><tspan x="659.4">+</tspan><tspan x="680.1">PeekTop()</tspan></text>
<text y="5210.5"><tspan x="659.4">+</tspan><tspan x="680.1">Size()</tspan></text>
<text y="5231.8"><tspan x="659.4">+</tspan><tspan x="680.1">Capacity()</tspan></text>
<text y="5253.2"><tspan x="659.4">+</tspan><tspan x="680.1">SwapRemove()</tspan></text>
<text y="5274.5"><tspan x="659.4">+</tspan><tspan x="680.1">Mem()</tspan></text>
<text y="5295.9"><tspan x="659.4">+</tspan><tspan x="680.1">Mem()</tspan></text>
<text y="5317.3"><tspan x="662.5">-</tspan><tspan x="680.1">DynArray()</tspan></text>
<text y="5338.6"><tspan x="662.5">-</tspan><tspan x="680.1">operator=()</tspan></text>
<text y="5360.0"><tspan x="662.5">-</tspan><tspan x="680.1">EnsureCapacity()</tspan></text>
</g>
</svg>
